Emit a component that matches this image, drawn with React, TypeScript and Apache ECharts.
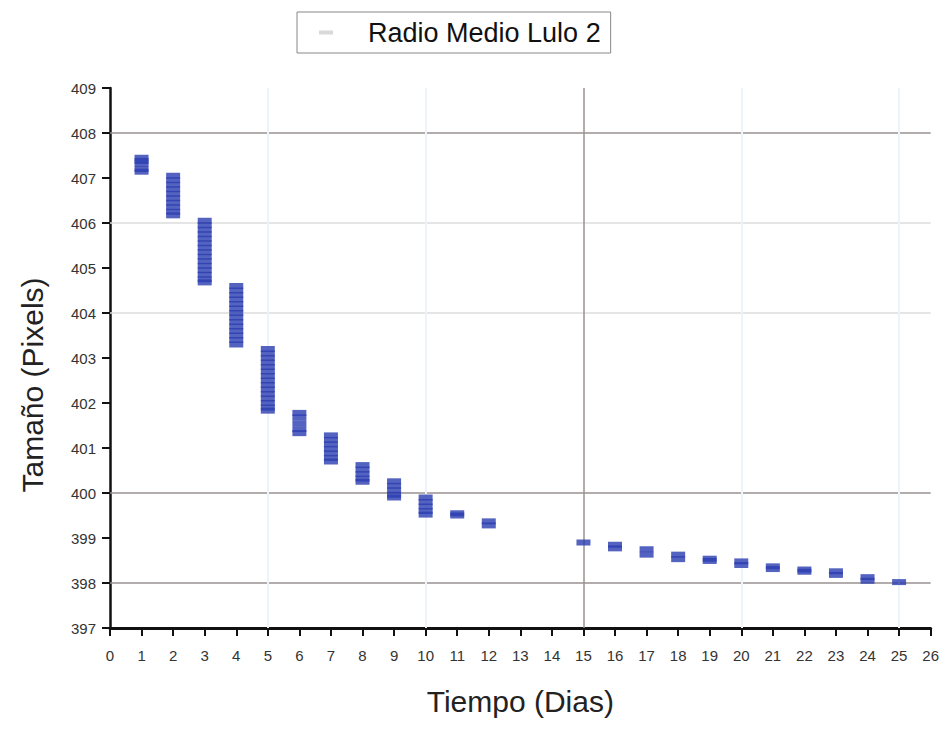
import React, { useEffect, useRef } from "react";
import * as echarts from "echarts";

const seriesName = "Radio Medio Lulo 2";
const xAxisTitle = "Tiempo (Dias)";
const yAxisTitle = "Tamaño (Pixels)";

const dayNumbers = [1, 2, 3, 4, 5, 6, 7, 8, 9, 10, 11, 12, 15, 16, 17, 18, 19, 20, 21, 22, 23, 24, 25];

const radiusByDay: number[][] = [
  [407.45, 407.38, 407.32, 407.2, 407.14],
  [407.05, 406.95, 406.85, 406.75, 406.65, 406.55, 406.45, 406.35, 406.25, 406.17],
  [406.05, 405.95, 405.85, 405.75, 405.65, 405.55, 405.45, 405.35, 405.25, 405.15, 405.05, 404.95, 404.85, 404.75, 404.68],
  [404.6, 404.5, 404.4, 404.3, 404.2, 404.1, 404.0, 403.9, 403.8, 403.7, 403.6, 403.5, 403.4, 403.3],
  [403.2, 403.1, 403.0, 402.9, 402.8, 402.7, 402.6, 402.5, 402.4, 402.3, 402.2, 402.1, 402.0, 401.9, 401.83],
  [401.78, 401.68, 401.55, 401.42, 401.33],
  [401.28, 401.18, 401.08, 400.98, 400.88, 400.78, 400.7],
  [400.62, 400.52, 400.42, 400.32, 400.25],
  [400.26, 400.16, 400.06, 399.96, 399.9],
  [399.9, 399.8, 399.7, 399.6, 399.52],
  [399.55, 399.5],
  [399.37, 399.28],
  [398.9],
  [398.85, 398.77],
  [398.75, 398.63],
  [398.63, 398.53],
  [398.54, 398.49],
  [398.48, 398.4],
  [398.37, 398.31],
  [398.3, 398.25],
  [398.26, 398.18],
  [398.13, 398.05],
  [398.02],
];

const darkHLines = [408, 400, 398];
const lightHLines = [406, 404];
const darkVLines = [15];
const lightVLines = [5, 10, 20, 25];

export default function App() {
  const ref = useRef<HTMLDivElement>(null);
  useEffect(() => {
    if (!ref.current) return;
    const chart = echarts.init(ref.current, null, { renderer: "svg" });
    const points: number[][] = [];
    dayNumbers.forEach((d, i) => radiusByDay[i].forEach((v) => points.push([d, v])));
    const font = "Liberation Sans, Arial, sans-serif";
    const markData: any[] = [];
    darkHLines.forEach((v) => markData.push({ yAxis: v, lineStyle: { color: "#9a9090", width: 1.5, type: "solid" } }));
    lightHLines.forEach((v) => markData.push({ yAxis: v, lineStyle: { color: "#dcdcdc", width: 1.5, type: "solid" } }));
    darkVLines.forEach((v) => markData.push({ xAxis: v, lineStyle: { color: "#9a9090", width: 1.5, type: "solid" } }));
    lightVLines.forEach((v) => markData.push({ xAxis: v, lineStyle: { color: "#edf3f9", width: 2, type: "solid" } }));
    chart.setOption({
      animation: false,
      backgroundColor: "#ffffff",
      grid: { left: 102, right: 6, top: 80, bottom: 82 },
      legend: {
        left: 289,
        top: 4,
        padding: [7, 10, 7, 22],
        borderColor: "#888",
        borderWidth: 1,
        icon: "rect",
        itemWidth: 14,
        itemHeight: 4,
        itemStyle: { color: "#d0d0d0" },
        textStyle: { fontSize: 27, color: "#111", fontFamily: font, padding: [0, 0, 0, 30] },
        data: [seriesName],
      },
      xAxis: {
        type: "value",
        min: 0,
        max: 26,
        interval: 1,
        name: xAxisTitle,
        nameLocation: "middle",
        nameGap: 58,
        nameTextStyle: { fontSize: 30, color: "#222", fontFamily: font },
        axisLine: { show: true, lineStyle: { color: "#111", width: 3 } },
        axisTick: { show: true, length: 8, lineStyle: { color: "#111", width: 2 } },
        axisLabel: { fontSize: 15, color: "#333", fontFamily: font, margin: 20 },
        splitLine: { show: false },
      },
      yAxis: {
        type: "value",
        min: 397,
        max: 409,
        interval: 1,
        axisLine: { show: true, lineStyle: { color: "#111", width: 2.5 } },
        axisTick: { show: true, length: 8, lineStyle: { color: "#111", width: 2 } },
        axisLabel: { fontSize: 15, color: "#333", fontFamily: font, margin: 14 },
        splitLine: { show: false },
      },
      graphic: [
        {
          type: "text",
          x: 24,
          y: 377,
          rotation: Math.PI / 2,
          style: {
            text: yAxisTitle,
            fontSize: 30,
            fill: "#222",
            fontFamily: font,
            align: "center",
            verticalAlign: "middle",
          },
        },
      ],
      series: [
        {
          name: seriesName,
          type: "scatter",
          symbol: "rect",
          symbolSize: [14, 6],
          itemStyle: { color: "#2a3cb0" },
          data: points,
          z: 3,
          markLine: {
            silent: true,
            symbol: "none",
            label: { show: false },
            data: markData,
            z: 1,
          },
        },
      ],
    });
    return () => chart.dispose();
  }, []);
  return <div ref={ref} style={{ width: 934, height: 713 }} />;
}
